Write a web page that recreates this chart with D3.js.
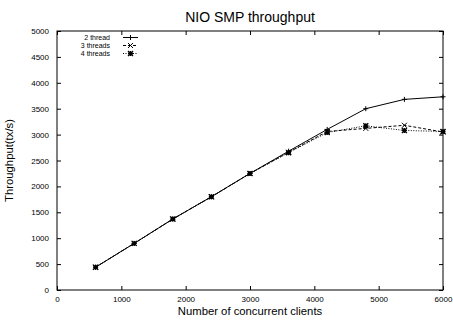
<!DOCTYPE html>
<html>
<head>
<meta charset="utf-8">
<script src="https://cdn.jsdelivr.net/npm/d3@7"></script>
<style>
  body { margin: 0; background: #fff; }
  svg text { font-family: "Liberation Sans", Arial, sans-serif; fill: #000; }
</style>
</head>
<body>
<div id="chart"></div>
<script>
const clients = [600, 1200, 1800, 2400, 3000, 3600, 4200, 4800, 5400, 6000];
const twoThread = [440, 900, 1370, 1800, 2250, 2680, 3100, 3500, 3680, 3730];
const threeThreads = [440, 900, 1370, 1800, 2250, 2660, 3060, 3120, 3180, 3050];
const fourThreads = [440, 900, 1370, 1800, 2250, 2650, 3040, 3170, 3080, 3060];
const xTicks = [0, 1000, 2000, 3000, 4000, 5000, 6000];
const yTicks = [0, 500, 1000, 1500, 2000, 2500, 3000, 3500, 4000, 4500, 5000];

const series = [
    { label: "2 thread", values: twoThread, dash: null, mark: "plus" },
    { label: "3 threads", values: threeThreads, dash: "3,2", mark: "cross" },
    { label: "4 threads", values: fourThreads, dash: "1,1.5", mark: "star" }
];

const width = 453, height = 320;
const margin = { top: 31, right: 10, bottom: 30, left: 57 };
const innerW = width - margin.left - margin.right;
const innerH = height - margin.top - margin.bottom;

const svg = d3.select("#chart").append("svg")
    .attr("width", width)
    .attr("height", height);

const g = svg.append("g").attr("transform", `translate(${margin.left},${margin.top})`);
const x = d3.scaleLinear().domain([0, 6000]).range([0, innerW]);
const y = d3.scaleLinear().domain([0, 5000]).range([innerH, 0]);

// axes with inward ticks, mirrored on top/right
const tick = 4;
g.append("g")
    .attr("transform", `translate(0,${innerH})`)
    .call(d3.axisBottom(x).tickValues(xTicks).tickSize(-tick).tickPadding(6).tickFormat(d3.format("d")))
    .call(a => a.select(".domain").remove());
g.append("g")
    .call(d3.axisTop(x).tickValues(xTicks).tickSize(-tick).tickFormat(""))
    .call(a => a.select(".domain").remove());
g.append("g")
    .call(d3.axisLeft(y).tickValues(yTicks).tickSize(-tick).tickPadding(8).tickFormat(d3.format("d")))
    .call(a => a.select(".domain").remove());
g.append("g")
    .attr("transform", `translate(${innerW},0)`)
    .call(d3.axisRight(y).tickValues(yTicks).tickSize(-tick).tickFormat(""))
    .call(a => a.select(".domain").remove());

g.selectAll(".tick text").attr("font-size", 8).attr("fill", "#000");
g.selectAll(".tick line").attr("stroke", "#000");

g.append("rect")
    .attr("width", innerW)
    .attr("height", innerH)
    .attr("fill", "none")
    .attr("stroke", "#000")
    .attr("stroke-width", 1);

function drawMark(sel, type, cx, cy) {
    const s = 2.5;
    const p = sel.append("path")
        .attr("stroke", "#000")
        .attr("stroke-width", 1)
        .attr("fill", "none");
    if (type === "plus") {
        p.attr("d", `M${cx - s},${cy}H${cx + s}M${cx},${cy - s}V${cy + s}`);
    } else if (type === "cross") {
        p.attr("d", `M${cx - s},${cy - s}L${cx + s},${cy + s}M${cx - s},${cy + s}L${cx + s},${cy - s}`);
    } else {
        p.attr("stroke-width", 1.3)
            .attr("d", `M${cx - s},${cy}H${cx + s}M${cx},${cy - s}V${cy + s}M${cx - s},${cy - s}L${cx + s},${cy + s}M${cx - s},${cy + s}L${cx + s},${cy - s}`);
    }
}

const line = d3.line()
    .x(d => x(d[0]))
    .y(d => y(d[1]));

series.forEach(s => {
    const pts = clients.map((c, i) => [c, s.values[i]]);
    g.append("path")
        .datum(pts)
        .attr("fill", "none")
        .attr("stroke", "#000")
        .attr("stroke-width", 1)
        .attr("stroke-dasharray", s.dash)
        .attr("d", line);
    pts.forEach(p => drawMark(g, s.mark, x(p[0]), y(p[1])));
});

// legend
const legend = g.append("g").attr("transform", "translate(0,6.5)");
series.forEach((s, i) => {
    const ly = i * 8;
    legend.append("text")
        .attr("x", 53)
        .attr("y", ly)
        .attr("dy", "0.35em")
        .attr("text-anchor", "end")
        .attr("font-size", 7)
        .text(s.label);
    legend.append("line")
        .attr("x1", 66).attr("x2", 81)
        .attr("y1", ly).attr("y2", ly)
        .attr("stroke", "#000")
        .attr("stroke-width", 1)
        .attr("stroke-dasharray", s.dash);
    drawMark(legend, s.mark, 73.5, ly);
});

svg.append("text")
    .attr("x", margin.left + innerW / 2)
    .attr("y", 22)
    .attr("text-anchor", "middle")
    .attr("font-size", 14)
    .text("NIO SMP throughput");

svg.append("text")
    .attr("x", margin.left + innerW / 2)
    .attr("y", 315)
    .attr("text-anchor", "middle")
    .attr("font-size", 11.3)
    .text("Number of concurrent clients");

svg.append("text")
    .attr("transform", `translate(13,${margin.top + innerH / 2}) rotate(-90)`)
    .attr("text-anchor", "middle")
    .attr("font-size", 11.3)
    .text("Throughput(tx/s)");
</script>
</body>
</html>
